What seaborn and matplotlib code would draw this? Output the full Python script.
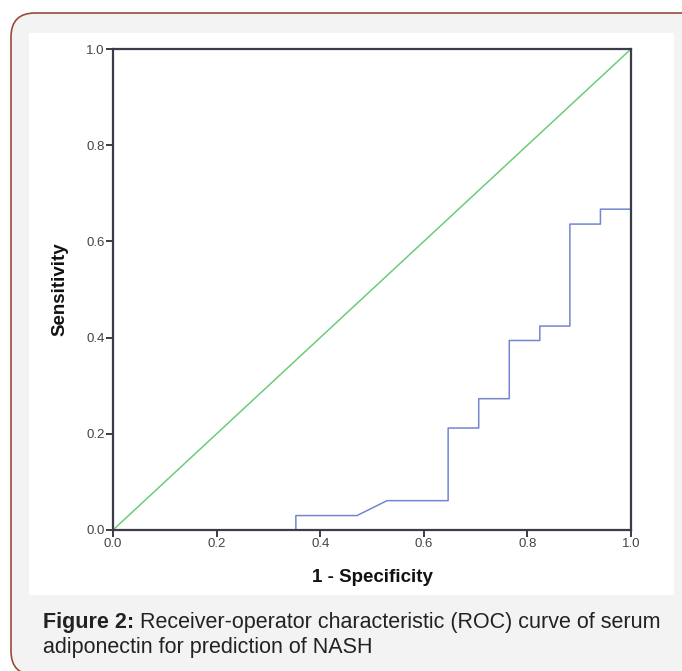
import matplotlib
matplotlib.use("Agg")
import matplotlib.pyplot as plt
import seaborn as sns
import pandas as pd
from matplotlib.patches import FancyBboxPatch, Rectangle
from matplotlib.transforms import IdentityTransform

# ROC curve (1 - specificity, sensitivity)
fpr = [0.0, 0.353, 0.353, 0.471, 0.529, 0.647, 0.647, 0.706, 0.706, 0.765,
       0.765, 0.824, 0.824, 0.882, 0.882, 0.941, 0.941, 1.0, 1.0]
tpr = [0.0, 0.0, 0.030, 0.030, 0.061, 0.061, 0.212, 0.212, 0.273, 0.273,
       0.394, 0.394, 0.424, 0.424, 0.636, 0.636, 0.667, 0.667, 1.0]
ref_x = [0.0, 1.0]
ref_y = [0.0, 1.0]
ticks = [0.0, 0.2, 0.4, 0.6, 0.8, 1.0]
tick_labels = ["0.0", "0.2", "0.4", "0.6", "0.8", "1.0"]

caption_bold = "Figure 2:"
caption_rest = " Receiver-operator characteristic (ROC) curve of serum"
caption_line2 = "adiponectin for prediction of NASH"

sns.set_style("white")
plt.rcParams['font.family'] = ['Liberation Sans', 'DejaVu Sans']

W, H = 682, 671
fig = plt.figure(figsize=(W / 100, H / 100), dpi=100)
fig.patch.set_facecolor("white")

# card background + white panel (pixel coords, origin bottom-left)
card = FancyBboxPatch((11, -4), 740, H - 13 + 4, boxstyle="round,pad=0,rounding_size=24",
                      transform=IdentityTransform(), facecolor="#f3f3f3",
                      edgecolor="#9a4a3a", linewidth=1.2, zorder=-3)
fig.patches.append(card)
panel = Rectangle((29, H - 595), 674 - 29, 595 - 33, transform=IdentityTransform(),
                  facecolor="white", edgecolor="none", zorder=-2)
fig.patches.append(panel)

ax = fig.add_axes([113 / W, (H - 530) / H, 518 / W, 481 / H])
ax.set_facecolor("white")

roc = pd.DataFrame({"fpr": fpr, "tpr": tpr})
ref = pd.DataFrame({"x": ref_x, "y": ref_y})
sns.lineplot(data=ref, x="x", y="y", color="#6ccc78", linewidth=1.1,
             sort=False, estimator=None, ax=ax)
sns.lineplot(data=roc, x="fpr", y="tpr", color="#7386cf", linewidth=1.1,
             sort=False, estimator=None, ax=ax)

ax.set_xlim(0, 1)
ax.set_ylim(0, 1)
ax.set_xticks(ticks)
ax.set_xticklabels(tick_labels)
ax.set_yticks(ticks)
ax.set_yticklabels(tick_labels)
for s in ax.spines.values():
    s.set_visible(True)
    s.set_color("#3c3c48")
    s.set_linewidth(1.6)
ax.tick_params(direction="out", length=5, width=1.4, color="#3c3c48",
               labelsize=9.5, labelcolor="#444444", pad=1,
               bottom=True, left=True)

ax.set_xlabel("1 - Specificity", fontsize=13.5, fontweight="bold", color="#111111")
ax.set_ylabel("Sensitivity", fontsize=13.5, fontweight="bold", color="#111111")
ax.xaxis.set_label_coords((372 - 113) / 518, (530 - 577) / 481)
ax.yaxis.set_label_coords((60 - 113) / 518, 0.5)
ax.xaxis.label.set_va("center")
ax.yaxis.label.set_va("center")

# caption
cap_size = 15.5
t1 = fig.text(43 / W, (H - 628) / H, caption_bold, fontsize=cap_size,
              fontweight="bold", color="#222222", va="baseline", ha="left")
fig.canvas.draw()
bb = t1.get_window_extent(renderer=fig.canvas.get_renderer())
fig.text(bb.x1 / W, (H - 628) / H, caption_rest, fontsize=cap_size,
         color="#222222", va="baseline", ha="left")
fig.text(43 / W, (H - 653) / H, caption_line2, fontsize=cap_size,
         color="#222222", va="baseline", ha="left")

fig.savefig("out.png", dpi=100)
